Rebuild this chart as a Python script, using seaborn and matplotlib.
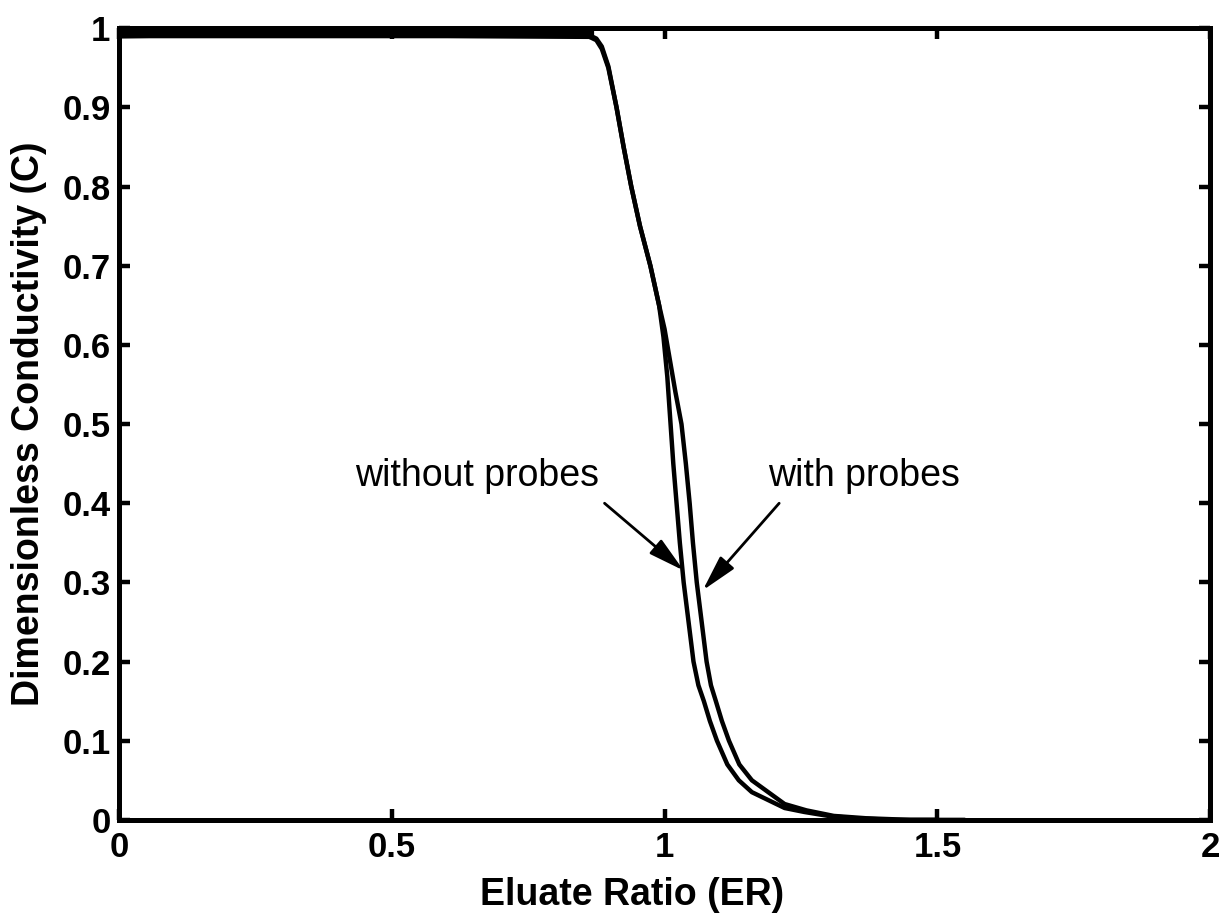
import matplotlib
matplotlib.use("Agg")
import matplotlib.pyplot as plt
import seaborn as sns
import pandas as pd

# --- data ---
er_without = [0.0, 0.2, 0.4, 0.6, 0.8, 0.86, 0.875, 0.885, 0.897, 0.912, 0.925, 0.939,
              0.955, 0.974, 0.99, 0.998, 1.005, 1.011, 1.016, 1.022, 1.028, 1.035,
              1.044, 1.053, 1.062, 1.072, 1.083, 1.096, 1.115, 1.136, 1.16, 1.19,
              1.22, 1.256, 1.30, 1.35, 1.42, 1.50]
c_without = [0.993, 0.994, 0.994, 0.993, 0.993, 0.992, 0.987, 0.977, 0.952, 0.90, 0.85, 0.80,
             0.75, 0.70, 0.65, 0.61, 0.56, 0.50, 0.45, 0.40, 0.35, 0.30,
             0.25, 0.20, 0.17, 0.15, 0.125, 0.10, 0.07, 0.05, 0.035, 0.025,
             0.015, 0.01, 0.005, 0.002, 0.0, 0.0]

er_with = [0.0, 0.2, 0.4, 0.6, 0.8, 0.86, 0.875, 0.885, 0.897, 0.912, 0.925, 0.939,
           0.955, 0.974, 0.99, 1.0, 1.01, 1.02, 1.031, 1.039, 1.046, 1.052, 1.059,
           1.068, 1.077, 1.085, 1.094, 1.105, 1.118, 1.137, 1.16, 1.19, 1.22,
           1.26, 1.31, 1.37, 1.45, 1.55]
c_with = [0.99, 0.992, 0.991, 0.992, 0.991, 0.99, 0.985, 0.974, 0.95, 0.90, 0.85, 0.80,
          0.75, 0.70, 0.65, 0.62, 0.58, 0.54, 0.50, 0.45, 0.40, 0.35, 0.30,
          0.25, 0.20, 0.17, 0.15, 0.125, 0.10, 0.07, 0.05, 0.035, 0.02,
          0.012, 0.005, 0.002, 0.0, 0.0]

plateau_er = [0.0, 0.3, 0.6, 0.87]
plateau_lo = [0.988, 0.988, 0.988, 0.987]
plateau_hi = [1.0, 1.0, 1.0, 1.0]

x_ticks = [0, 0.5, 1, 1.5, 2]
x_tick_labels = ["0", "0.5", "1", "1.5", "2"]
y_ticks = [0, 0.1, 0.2, 0.3, 0.4, 0.5, 0.6, 0.7, 0.8, 0.9, 1]
y_tick_labels = ["0", "0.1", "0.2", "0.3", "0.4", "0.5", "0.6", "0.7", "0.8", "0.9", "1"]

x_label = "Eluate Ratio (ER)"
y_label = "Dimensionless Conductivity (C)"
label_without = "without probes"
label_with = "with probes"

# --- style ---
sns.set_style("ticks")
plt.rcParams["font.family"] = ["Liberation Sans", "DejaVu Sans"]
plt.rcParams["text.color"] = "black"
plt.rcParams["axes.labelcolor"] = "black"
plt.rcParams["xtick.color"] = "black"
plt.rcParams["ytick.color"] = "black"

fig = plt.figure(figsize=(12.25, 9.13), dpi=100)
ax = fig.add_axes([0.097, 0.102, 0.891, 0.867])

df_without = pd.DataFrame({"ER": er_without, "C": c_without})
df_with = pd.DataFrame({"ER": er_with, "C": c_with})

ax.fill_between(plateau_er, plateau_lo, plateau_hi, color="black", lw=0)

sns.lineplot(data=df_without, x="ER", y="C", ax=ax, color="black", lw=3.2,
             sort=False, estimator=None)
sns.lineplot(data=df_with, x="ER", y="C", ax=ax, color="black", lw=3.2,
             sort=False, estimator=None)

ax.set_xlim(0, 2)
ax.set_ylim(0, 1)
ax.set_xticks(x_ticks)
ax.set_xticklabels(x_tick_labels)
ax.set_yticks(y_ticks)
ax.set_yticklabels(y_tick_labels)

for sp in ax.spines.values():
    sp.set_visible(True)
    sp.set_linewidth(3.6)
    sp.set_color("black")

ax.tick_params(axis="both", which="major", direction="in", length=8, width=3.2,
               top=True, right=True, labelsize=25, colors="black")
ax.tick_params(axis="x", pad=8)
ax.tick_params(axis="y", pad=6)
for lab in ax.get_xticklabels() + ax.get_yticklabels():
    lab.set_fontweight("bold")

ax.set_xlabel(x_label, fontsize=27, fontweight="bold")
ax.set_ylabel(y_label, fontsize=27, fontweight="bold")
ax.xaxis.set_label_coords(0.47, -0.072)
ax.yaxis.set_label_coords(-0.066, 0.5)

arrow_kw = dict(arrowstyle="-|>,head_length=1.1,head_width=0.28", color="black", lw=2,
                shrinkA=0, shrinkB=0, mutation_scale=20)
ax.annotate("", xy=(1.035, 0.315), xytext=(0.89, 0.40), arrowprops=arrow_kw)
ax.annotate("", xy=(1.07, 0.29), xytext=(1.21, 0.40), arrowprops=arrow_kw)
ax.text(0.88, 0.435, label_without, ha="right", va="center", fontsize=27)
ax.text(1.19, 0.435, label_with, ha="left", va="center", fontsize=27)

fig.savefig("out.png", dpi=100, facecolor="white")
